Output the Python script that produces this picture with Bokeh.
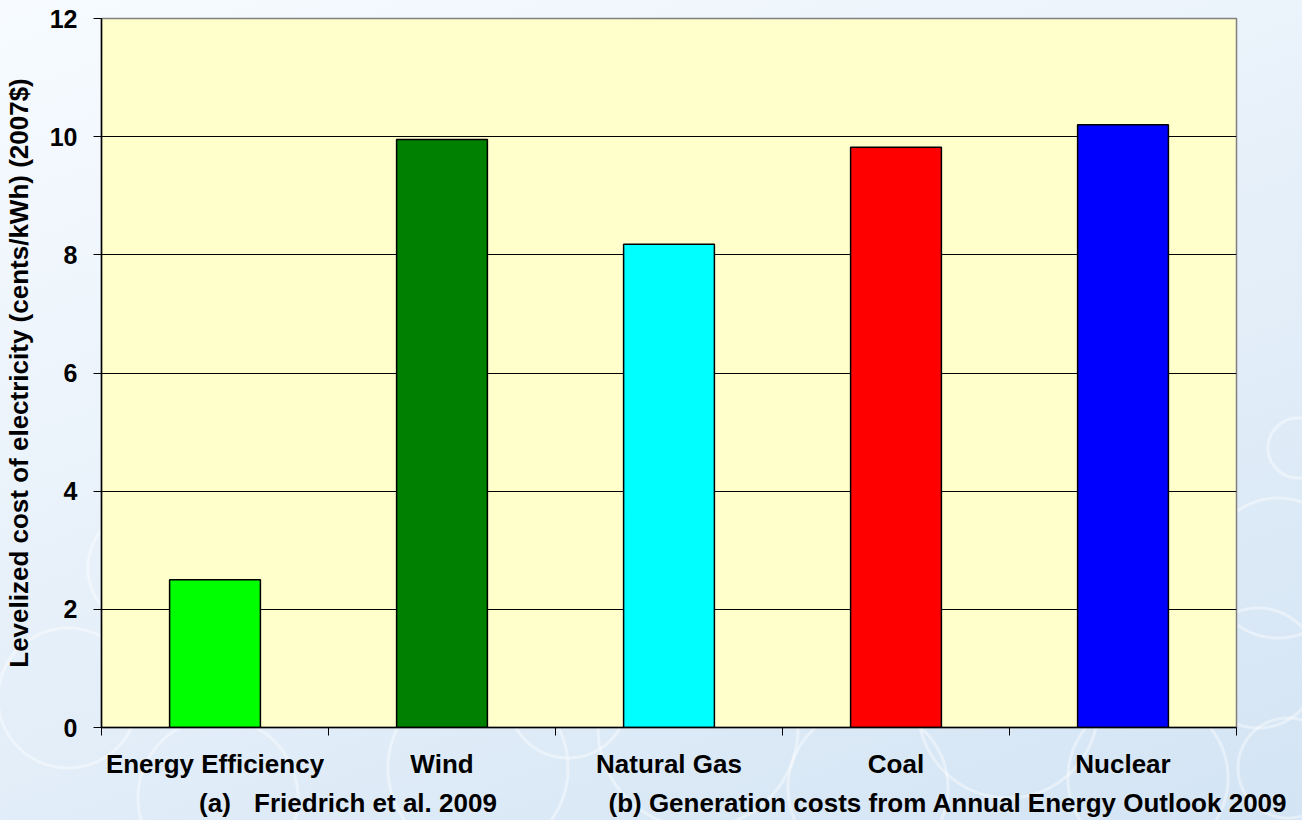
from bokeh.plotting import figure
from bokeh.models import ColumnDataSource, FixedTicker, Range1d, LinearAxis
from bokeh.embed import file_html
from bokeh.resources import INLINE

categories = ["Energy Efficiency", "Wind", "Natural Gas", "Coal", "Nuclear"]
costs = [2.5, 9.95, 8.18, 9.82, 10.2]
colors = ["#00FF00", "#008000", "#00FFFF", "#FF0000", "#0000FF"]
y_ticks = [0, 2, 4, 6, 8, 10, 12]
notes = ["(a)", "Friedrich et al. 2009", "(b) Generation costs from Annual Energy Outlook 2009"]
note_x = [0.5, 1.207, 3.729]

FONT = "Liberation Sans"

xs = [i + 0.5 for i in range(len(categories))]
src = ColumnDataSource(dict(x=xs, top=costs, color=colors, name=categories))

p = figure(width=1302, height=820, output_backend="svg", toolbar_location=None,
           x_range=Range1d(0, len(categories)), y_range=Range1d(0, 12),
           min_border_left=101, min_border_right=66, min_border_top=18, min_border_bottom=20)

rings = [
    (68, 698, 70), (218, 798, 80), (308, 658, 70), (478, 768, 90), (698, 728, 100),
    (868, 788, 80), (1008, 708, 90), (1148, 778, 80), (1278, 568, 70), (1298, 448, 30),
    (1258, 668, 60), (1288, 768, 50), (148, 568, 60), (568, 698, 60),
]
layers = []
for cx, cy, r in rings:
    layers.append(
        f"radial-gradient(circle at {cx}px {cy}px, transparent {r-2}px, "
        f"rgba(255,255,255,0.4) {r-1}px, rgba(255,255,255,0.4) {r+1}px, transparent {r+2}px)"
    )
layers.append("linear-gradient(160deg, #f7fbff 0%, #e8f1fa 45%, #d3e4f4 100%)")
p.styles = {"background": ", ".join(layers)}
p.border_fill_color = None
p.background_fill_color = "#FFFFCC"
p.outline_line_color = "#808080"
p.outline_line_width = 1.5

p.vbar(x="x", top="top", width=0.4, bottom=0, fill_color="color", line_color="black",
       line_width=1.5, source=src)

# x axis: category names centred, ticks on category boundaries
p.xaxis.ticker = FixedTicker(ticks=xs, minor_ticks=list(range(len(categories) + 1)))
p.xaxis.major_label_overrides = {x: c for x, c in zip(xs, categories)}
p.xaxis.major_tick_line_color = None
p.xaxis.major_tick_out = 8
p.xaxis.major_tick_in = 0
p.xaxis.minor_tick_out = 8
p.xaxis.minor_tick_in = 0
p.xaxis.minor_tick_line_color = "black"
p.xaxis.major_label_standoff = 13
p.xaxis.axis_line_color = "black"
p.xaxis.axis_line_width = 1.5
p.xaxis.major_label_text_font_size = "26px"

# notes row as a second axis below
note_axis = LinearAxis(ticker=FixedTicker(ticks=note_x, minor_ticks=[]),
                       major_label_overrides={x: t for x, t in zip(note_x, notes)})
note_axis.axis_line_color = None
note_axis.major_tick_line_color = None
note_axis.major_tick_out = 0
note_axis.major_tick_in = 0
note_axis.major_label_standoff = 6
note_axis.major_label_text_font = FONT
note_axis.major_label_text_font_style = "bold"
note_axis.major_label_text_font_size = "26px"
note_axis.major_label_text_color = "black"
p.add_layout(note_axis, "below")

# y axis
p.yaxis.ticker = FixedTicker(ticks=y_ticks, minor_ticks=[])
p.yaxis.major_tick_out = 8
p.yaxis.major_tick_in = 0
p.yaxis.major_label_standoff = 16
p.yaxis.axis_line_color = "black"
p.yaxis.axis_line_width = 1.5
p.yaxis.axis_label = "Levelized cost of electricity (cents/kWh) (2007$)"
p.yaxis.axis_label_standoff = 13
p.yaxis.major_label_text_font_size = "25px"
p.yaxis.axis_label_text_font_size = "26px"

for ax in (p.xaxis[0], p.yaxis[0]):
    ax.major_label_text_font = FONT
    ax.major_label_text_font_style = "bold"
    ax.major_label_text_color = "black"
    ax.axis_label_text_font = FONT
    ax.axis_label_text_font_style = "bold"
    ax.axis_label_text_color = "black"

p.xgrid.grid_line_color = None
p.ygrid.grid_line_color = "black"
p.ygrid.grid_line_width = 1.2
p.ygrid.ticker = FixedTicker(ticks=y_ticks)

open("out.html", "w").write(file_html(p, INLINE))
